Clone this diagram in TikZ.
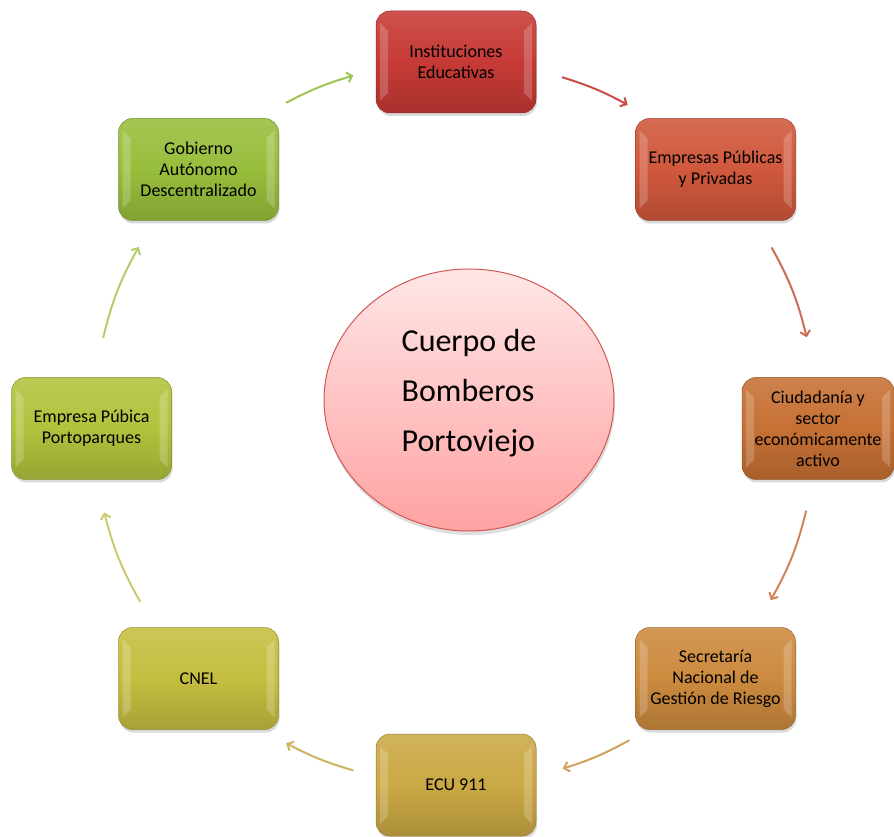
\documentclass[tikz,border=0pt]{standalone}
\usepackage{fontspec}
\setmainfont{Carlito}
\usetikzlibrary{arrows.meta,shadows,shapes.geometric}

% colores de las cajas
\definecolor{cinst}{RGB}{198,58,54}
\definecolor{cemp}{RGB}{208,88,60}
\definecolor{cciud}{RGB}{198,112,52}
\definecolor{csec}{RGB}{204,138,62}
\definecolor{cecu}{RGB}{202,168,68}
\definecolor{ccnel}{RGB}{196,190,64}
\definecolor{cporto}{RGB}{178,194,60}
\definecolor{cgob}{RGB}{152,190,60}
% colores de las flechas
\definecolor{f1}{RGB}{200,76,72}
\definecolor{f2}{RGB}{205,108,86}
\definecolor{f3}{RGB}{208,132,92}
\definecolor{f4}{RGB}{212,160,96}
\definecolor{f5}{RGB}{205,178,98}
\definecolor{f6}{RGB}{204,202,112}
\definecolor{f7}{RGB}{178,205,108}
\definecolor{f8}{RGB}{156,198,82}

\begin{document}
\begin{tikzpicture}[x=1pt,y=1pt,
	caja/.style={draw=#1!75!black,line width=0.5pt,rounded corners=14pt,
		minimum width=160pt,minimum height=102pt,inner sep=0pt,
		top color=#1!88!white,bottom color=#1!85!black,middle color=#1,
		drop shadow={shadow xshift=1pt,shadow yshift=-3pt,opacity=0.3},
		path picture={
			\fill[white,opacity=0.2,sharp corners] ([shift={(4pt,12pt)}]path picture bounding box.south west)
				-- ([shift={(4pt,-12pt)}]path picture bounding box.north west)
				-- ([shift={(12pt,-20pt)}]path picture bounding box.north west)
				-- ([shift={(12pt,20pt)}]path picture bounding box.south west) -- cycle;
			\fill[white,opacity=0.2,sharp corners] ([shift={(-4pt,12pt)}]path picture bounding box.south east)
				-- ([shift={(-4pt,-12pt)}]path picture bounding box.north east)
				-- ([shift={(-12pt,-20pt)}]path picture bounding box.north east)
				-- ([shift={(-12pt,20pt)}]path picture bounding box.south east) -- cycle;
		},
		align=center,font=\fontsize{18}{21}\selectfont},
	flecha/.style={draw=#1,line width=2pt,-{Straight Barb[length=5pt,width=10pt]}}]
	\useasboundingbox (0,0) rectangle (894,836);
	\def\R{362} %radio del anillo
	
	\node[ellipse,draw=cinst!85!white,line width=1pt,minimum width=290pt,minimum height=262pt,
		top color={rgb,255:red,255;green,230;blue,230},bottom color={rgb,255:red,255;green,162;blue,162},
		drop shadow={shadow xshift=1pt,shadow yshift=-4pt,opacity=0.25},
		align=left,font=\fontsize{32}{50}\selectfont] (cuerpo) at (469,436) {Cuerpo de\\Bomberos\\Portoviejo\rule[-18.5pt]{0pt}{0pt}};
	
	\node[caja=cinst] (inst) at (456,774) {Instituciones\\Educativas};
	\node[caja=cemp] (emp) at (715.5,666.5) {Empresas Públicas\\y Privadas};
	\node[caja=cciud,minimum width=152pt] (ciud) at (818,407.5) {Ciudadanía y\\sector\\económicamente\\activo};
	\node[caja=csec] (sec) at (715.5,157.5) {Secretaría\\Nacional de\\Gestión de Riesgo};
	\node[caja=cecu] (ecu) at (456,51) {ECU 911};
	\node[caja=ccnel] (cnel) at (198.5,157.5) {CNEL};
	\node[caja=cporto] (porto) at (91.5,407.5) {Empresa Púbica\\Portoparques};
	\node[caja=cgob] (gob) at (198.5,666.5) {Gobierno\\Autónomo\\Descentralizado};
	
	\coordinate (anillo) at (455,413);
	\foreach \i/\a/\b in {1/72.8/61.5,2/29.0/13.7,3/-14.0/-29.3,4/-61.2/-72.7,
		5/-106.3/-117.8,6/-150.4/-165.7,7/166.4/150.9,8/117.8/106.3}{
		\pgfmathsetmacro\h{(\a-\b)/2}
		\coordinate (s\i) at ([shift={(\a:\R)}]anillo);
		\coordinate (t\i) at ([shift={(\b:\R)}]anillo);
		\draw[flecha=f\i] (s\i) to[bend left=\h] (t\i);
	}
\end{tikzpicture}
\end{document}
